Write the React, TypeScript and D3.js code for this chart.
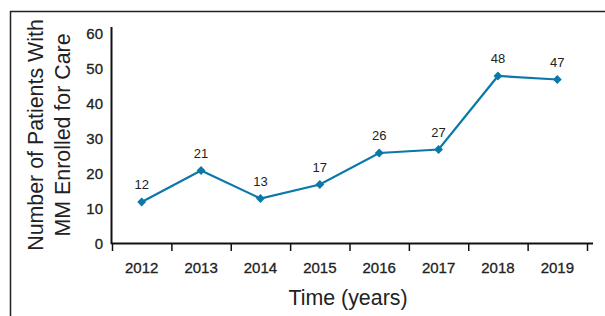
import React from "react";
import * as d3 from "d3";

const years = ["2012", "2013", "2014", "2015", "2016", "2017", "2018", "2019"];
const patients = [12, 21, 13, 17, 26, 27, 48, 47];
const yTicks = [0, 10, 20, 30, 40, 50, 60];

const W = 605;
const H = 316;
const FONT = "'Liberation Sans Narrow', 'Arial Narrow', 'Liberation Sans', Arial, sans-serif";
const LINE = "#0c78a8";

export default function App() {
  const x = d3.scaleBand<string>().domain(years).range([112, 587]);
  const y = d3.scaleLinear().domain([0, 60]).range([244, 34]);
  const line = d3
    .line<number>()
    .x((_, i) => (x(years[i]) as number) + x.bandwidth() / 2)
    .y((d) => y(d));
  const diamond = d3.symbol().type(d3.symbolDiamond2).size(50)() as string;

  return (
    <svg
      width={W}
      height={H}
      style={{ position: "absolute", left: 0, top: 0, background: "#fff" }}
    >
      <rect x={0} y={0} width={W} height={H} fill="#fff" />
      {/* frame */}
      <line x1={10.5} y1={11} x2={10.5} y2={H} stroke="#222" strokeWidth={1.5} />
      <line x1={10} y1={11.5} x2={W} y2={11.5} stroke="#222" strokeWidth={1.5} />

      {/* y axis */}
      <line x1={111.5} y1={27} x2={111.5} y2={244} stroke="#111" strokeWidth={2} />
      {yTicks.map((t) => (
        <text
          key={t}
          x={103}
          y={y(t)}
          dy="0.35em"
          textAnchor="end"
          fontFamily={FONT}
          fontSize={15}
          fill="#222"
          stroke="#222"
          strokeWidth={0.3}
        >
          {t}
        </text>
      ))}

      {/* x axis */}
      <line x1={111} y1={243.5} x2={593} y2={243.5} stroke="#111" strokeWidth={2} />
      {[...years.map((yr) => x(yr) as number), 587].map((px, i) => (
        <line key={i} x1={px + 0.5} y1={243} x2={px + 0.5} y2={251} stroke="#111" strokeWidth={1.5} />
      ))}
      {years.map((yr) => (
        <text
          key={yr}
          x={(x(yr) as number) + x.bandwidth() / 2}
          y={268}
          dy="0.35em"
          textAnchor="middle"
          fontFamily={FONT}
          fontSize={15}
          fill="#222"
          stroke="#222"
          strokeWidth={0.3}
        >
          {yr}
        </text>
      ))}

      {/* series */}
      <path d={line(patients) as string} fill="none" stroke={LINE} strokeWidth={2.2} />
      {patients.map((v, i) => {
        const cx = (x(years[i]) as number) + x.bandwidth() / 2;
        const cy = y(v);
        return (
          <g key={i}>
            <path d={diamond} transform={`translate(${cx},${cy})`} fill={LINE} />
            <text
              x={cx}
              y={cy - 13}
              textAnchor="middle"
              fontFamily={FONT}
              fontSize={13}
              fill="#222"
            >
              {v}
            </text>
          </g>
        );
      })}

      {/* axis titles */}
      <text
        transform={`translate(43,135) rotate(-90) scale(0.93,1)`}
        textAnchor="middle"
        fontFamily={FONT}
        fontSize={23}
        fill="#222"
      >
        Number of Patients With
      </text>
      <text
        transform={`translate(70,135) rotate(-90) scale(0.93,1)`}
        textAnchor="middle"
        fontFamily={FONT}
        fontSize={23}
        fill="#222"
      >
        MM Enrolled for Care
      </text>
      <text
        transform={`translate(348,305) scale(0.93,1)`}
        textAnchor="middle"
        fontFamily={FONT}
        fontSize={23}
        fill="#222"
      >
        Time (years)
      </text>
    </svg>
  );
}
